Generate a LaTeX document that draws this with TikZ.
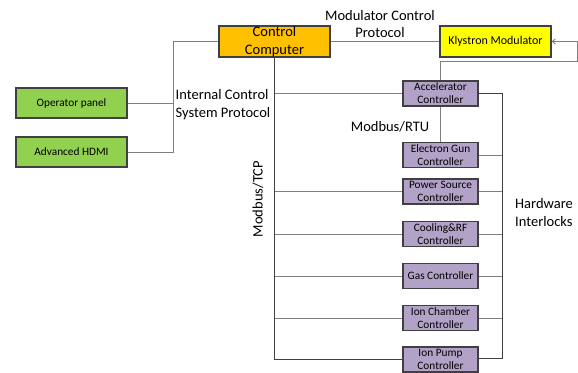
\documentclass[tikz,border=0pt]{standalone}
\usepackage{fontspec}
\setmainfont{Carlito}
\usetikzlibrary{arrows.meta, positioning}

\definecolor{ccorange}{HTML}{FFC000}
\definecolor{kmyellow}{HTML}{FFFF00}
\definecolor{hmigreen}{HTML}{92D050}
\definecolor{ctrlpurple}{HTML}{B3A2C7}
\definecolor{boxline}{HTML}{404040}
\definecolor{wire}{HTML}{7F7F7F}

\tikzset{
    box/.style={rectangle, draw=boxline, line width=1.2pt, inner sep=0pt, align=center},
    mainbox/.style={box, minimum width=111pt, minimum height=31pt},
    hmibox/.style={box, fill=hmigreen, minimum width=111pt, minimum height=30pt, font=\fontsize{11.3}{13}\selectfont},
    ctrlbox/.style={box, fill=ctrlpurple, minimum width=75pt, minimum height=25pt, font=\fontsize{11.3}{13}\selectfont},
    note/.style={inner sep=0pt, font=\fontsize{14.5}{17.5}\selectfont},
    wire/.style={draw=wire, line width=0.9pt},
    bus/.style={draw=boxline, line width=0.9pt}
}

\begin{document}
\begin{tikzpicture}[x=1pt, y=-1pt]
    \useasboundingbox (0,0) rectangle (578,372);

    % Nodes
    \node[mainbox, fill=ccorange, font=\fontsize{14.5}{18}\selectfont] (cc) at (274.5,41.5) {Control\\Computer};
    \node[mainbox, fill=kmyellow, font=\fontsize{12}{14}\selectfont] (km) at (495.5,41.5) {Klystron Modulator};
    \node[hmibox] (op) at (71.5,103) {Operator panel};
    \node[hmibox] (hdmi) at (71.5,152) {Advanced HDMI};

    \node[ctrlbox] (ac) at (440.5,93.5) {Accelerator\\Controller};
    \node[ctrlbox] (eg) at (440.5,155) {Electron Gun\\Controller};
    \node[ctrlbox] (ps) at (440.5,191.5) {Power Source\\Controller};
    \node[ctrlbox] (cr) at (440.5,234) {Cooling\&RF\\Controller};
    \node[ctrlbox] (gas) at (440.5,276) {Gas Controller};
    \node[ctrlbox] (ich) at (440.5,318) {Ion Chamber\\Controller};
    \node[ctrlbox] (ip) at (440.5,359.5) {Ion Pump\\Controller};

    % Labels
    \node[note, align=center] (mcp) at (380,24) {Modulator Control\\Protocol};
    \node[note, align=left, anchor=west] (icsp) at (175.5,104.5) {Internal Control\\System Protocol};
    \node[note] (rtu) at (390,127) {Modbus/RTU};
    \node[note, rotate=90] (tcp) at (258,199) {Modbus/TCP};
    \node[note, align=left, anchor=west] (hwi) at (515,212.5) {Hardware\\Interlocks};

    % Coordinates
    \coordinate (hj) at (173,41.5);
    \coordinate (kl) at (577,61);
    \coordinate (il) at (502,358);

    % Edges
    \draw[wire] (cc.west) -- (hj) |- (hdmi.east);
    \draw[wire] (op.east) -- (op.east -| hj);
    \draw[wire] (cc.east) -- (km.west);
    \draw[wire, -{Straight Barb[length=3pt, width=5pt]}] (ac.north) |- (kl) |- (km.east);
    \draw[wire] (ac.south) -- (eg.north);

    \draw[bus] (cc.south) |- (ip.west);
    \foreach \c in {ac, ps, cr, gas, ich}
        \draw[wire] (\c.west -| cc.south) -- (\c.west);

    \draw[bus] (ac.east) -| (il) -- (il -| ip.east);
    \foreach \c in {eg, ps, cr, gas, ich}
        \draw[wire] (\c.east) -- (\c.east -| il);
\end{tikzpicture}
\end{document}
